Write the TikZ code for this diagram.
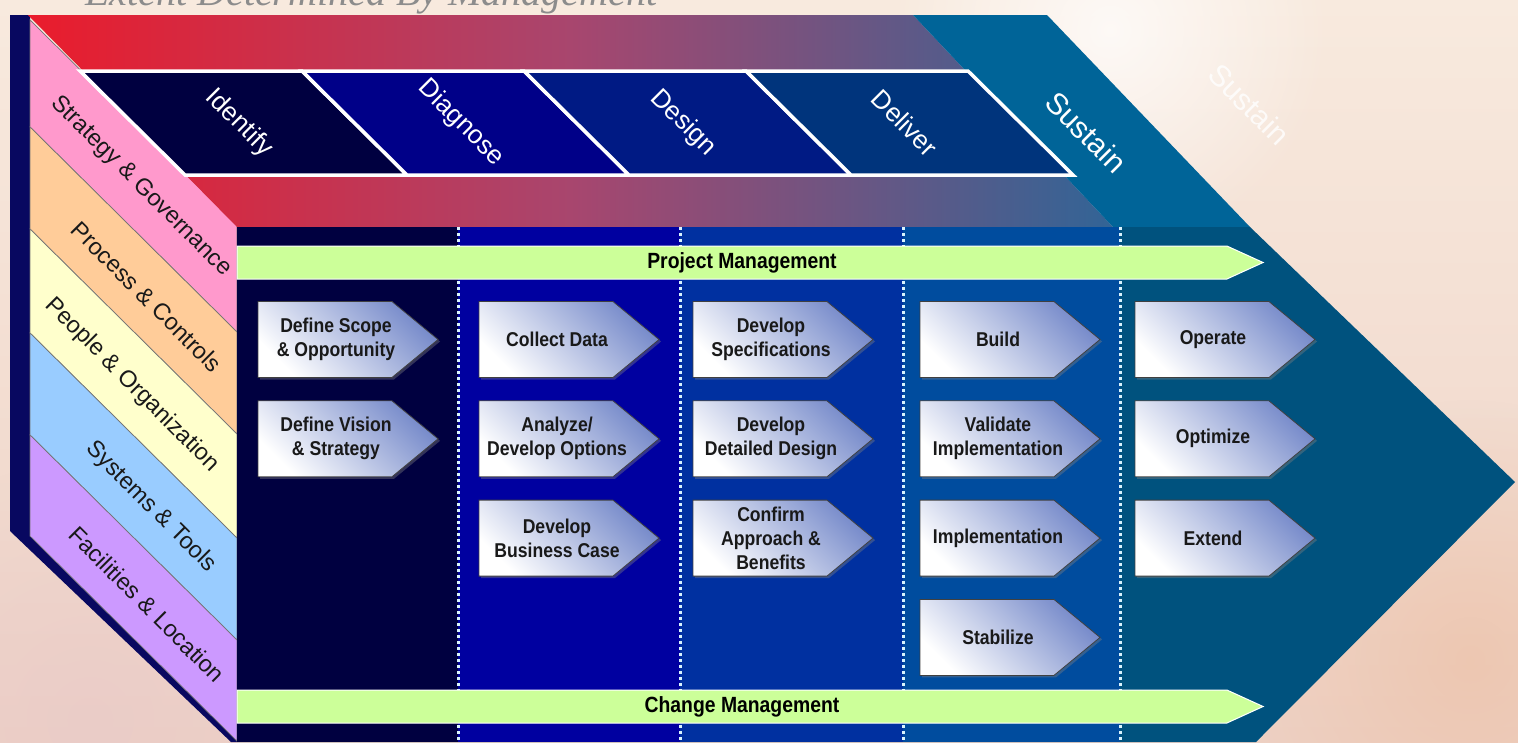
\documentclass[tikz,border=0pt]{standalone}
\usepackage{fontspec}
\setmainfont{Liberation Sans}
\newfontfamily\narrowfont[FakeStretch=0.88]{Liberation Sans}
\newfontfamily\titlefont{Liberation Serif}
\usetikzlibrary{positioning}
\usetikzlibrary{shapes.symbols}
\usetikzlibrary{shadows}
\usetikzlibrary{fadings}

\definecolor{bgtop}{RGB}{248,234,222}
\definecolor{bgbottom}{RGB}{238,210,198}
\definecolor{bgwarm}{RGB}{236,190,162}
\definecolor{bgpink}{RGB}{232,200,200}
\definecolor{sidenavy}{RGB}{8,8,96}
\definecolor{stripepink}{RGB}{255,153,204}
\definecolor{stripeorange}{RGB}{255,204,153}
\definecolor{stripecream}{RGB}{255,255,204}
\definecolor{stripeblue}{RGB}{153,204,255}
\definecolor{stripeviolet}{RGB}{204,153,255}
\definecolor{topred}{RGB}{234,28,44}
\definecolor{topplum}{RGB}{168,70,110}
\definecolor{topsteel}{RGB}{50,100,150}
\definecolor{sustaintop}{RGB}{0,100,152}
\definecolor{identifyblue}{RGB}{0,0,64}
\definecolor{diagnoseblue}{RGB}{0,0,136}
\definecolor{designblue}{RGB}{0,26,132}
\definecolor{deliverblue}{RGB}{0,52,124}
\definecolor{colA}{RGB}{0,0,64}
\definecolor{colB}{RGB}{0,0,160}
\definecolor{colC}{RGB}{0,48,160}
\definecolor{colD}{RGB}{0,76,158}
\definecolor{sustainface}{RGB}{0,82,126}
\definecolor{barlime}{RGB}{204,255,153}
\definecolor{stepblue}{RGB}{118,138,202}

\tikzfading[name=glow, inner color=transparent!0, outer color=transparent!100]

\begin{document}
\begin{tikzpicture}[x=1pt, y=-1pt, node distance=22.5pt,
    facelabel/.style={rotate=-45, font=\fontsize{23.5}{25}\selectfont, text=black!90, inner sep=0pt},
    phaselabel/.style={rotate=-45, font=\fontsize{26}{28}\selectfont, text=white, inner sep=0pt},
    phasebox/.style={draw=white, line width=3.5pt, line join=miter},
    divider/.style={draw=white!85!cyan, line width=3pt, dash pattern=on 3pt off 3pt},
    stepbox/.style={shape=signal, signal to=east, signal pointer angle=79, minimum width=180pt, minimum height=76pt, inner sep=0pt, draw=black!75, line width=0.8pt, top color=stepblue, bottom color=white, shading angle=-45, drop shadow={shadow xshift=2pt, shadow yshift=-2pt, opacity=.4}},
    steptext/.style={font=\narrowfont\bfseries\fontsize{20}{24}\selectfont, align=center, text=black!90, inner sep=0pt},
    bar/.style={shape=signal, signal to=east, signal pointer angle=49, minimum width=1026pt, minimum height=33pt, inner sep=0pt, fill=barlime, draw=white, line width=1pt},
    bartext/.style={font=\narrowfont\bfseries\fontsize{22}{24}\selectfont, text=black, inner sep=0pt}]
    \useasboundingbox (0,0) rectangle (1518,742);

    % backdrop
    \fill[top color=bgtop, bottom color=bgbottom] (0,0) rectangle (1518,742);
    \fill[white, path fading=glow, fill opacity=.75] (1110,30) circle (220pt);
    \fill[bgwarm, path fading=glow, fill opacity=.6] (1470,660) circle (260pt);
    \fill[bgpink, path fading=glow, fill opacity=.6] (90,720) circle (260pt);
    \node[anchor=base west, font=\titlefont\itshape\fontsize{40}{40}\selectfont, text=black!45, inner sep=0pt] (title) at (85,5) {Extent Determined By Management};
    \node[phaselabel, font=\fontsize{30}{32}\selectfont, text opacity=.8] (ghost) at (1249,104) {Sustain};

    % left face
    \fill[sidenavy] (10,15) -- (30,15) -- (30,536) -- (237,741) -- (237,742) -- (231,742) -- (10,531) -- cycle;
    \foreach \ya/\yb/\col/\lx/\txt [count=\i] in {20/127/stripepink/141/Strategy \& Governance, 127/229/stripeorange/147/Process \& Controls, 229/333/stripecream/132/People \& Organization, 333/435/stripeblue/151/Systems \& Tools, 435/536/stripeviolet/147/Facilities \& Location} {
        \filldraw[fill=\col, draw=black!55, line width=0.7pt] (30,\ya) -- (237,\ya+205) -- (237,\yb+205) -- (30,\yb) -- cycle;
        \node[facelabel] (face\i) at (\lx,{(\ya+\yb)/2+0.99*(\lx-30)+3}) {\txt};
    }

    % top face
    \shade[left color=topred, right color=topsteel, middle color=topplum] (28,15) -- (913,15) -- (1113,227) -- (237,227) -- cycle;
    \fill[sustaintop] (913,15) -- (1047,15) -- (1250,227) -- (1113,227) -- cycle;
    \foreach \t/\col/\txt [count=\i] in {80/identifyblue/Identify, 302/diagnoseblue/Diagnose, 524/designblue/Design, 746/deliverblue/Deliver} {
        \filldraw[phasebox, fill=\col] (\t,71) -- (\t+222,71) -- (\t+327,175) -- (\t+105,175) -- cycle;
        \node[phaselabel] (phase\i) at (\t+159,123) {\txt};
    }
    \node[phaselabel, font=\fontsize{30}{32}\selectfont] (sustain) at (1086,132) {Sustain};

    % front face
    \fill[sustainface] (237,227) -- (1250,227) -- (1515,482) -- (1256,742) -- (237,742) -- cycle;
    \fill[colA] (237,227) rectangle (458,742);
    \fill[colB] (458,227) rectangle (680,742);
    \fill[colC] (680,227) rectangle (903,742);
    \fill[colD] (903,227) rectangle (1120,742);
    \draw[divider] (458,227) -- (458,742);
    \draw[divider] (680,227) -- (680,742);
    \draw[divider] (903,227) -- (903,742);
    \draw[divider] (1120,227) -- (1120,742);

    \node[bar] (projbar) at (732,262.5) {};
    \node[bartext] (projtext) at ([xshift=10pt]projbar.center) {Project Management};
    \node[bar] (changebar) at (732,706.5) {};
    \node[bartext] (changetext) at ([xshift=10pt]changebar.center) {Change Management};

    % steps
    \node[stepbox] (scope) at (325,339.5) {};
    \node[stepbox, below=of scope] (vision) {};
    \node[stepbox] (collect) at (546,339.5) {};
    \node[stepbox, below=of collect] (analyze) {};
    \node[stepbox, below=of analyze] (business) {};
    \node[stepbox] (specs) at (760,339.5) {};
    \node[stepbox, below=of specs] (detailed) {};
    \node[stepbox, below=of detailed] (confirm) {};
    \node[stepbox] (build) at (987,339.5) {};
    \node[stepbox, below=of build] (validate) {};
    \node[stepbox, below=of validate] (implement) {};
    \node[stepbox, below=of implement] (stabilize) {};
    \node[stepbox] (operate) at (1202,339.5) {};
    \node[stepbox, below=of operate] (optimize) {};
    \node[stepbox, below=of optimize] (extend) {};

    \node[steptext] (scopetext) at ([xshift=11pt]scope.center) {Define Scope\\\& Opportunity};
    \node[steptext] (visiontext) at ([xshift=11pt]vision.center) {Define Vision\\\& Strategy};
    \node[steptext] (collecttext) at ([xshift=11pt]collect.center) {Collect Data};
    \node[steptext] (analyzetext) at ([xshift=11pt]analyze.center) {Analyze/\\Develop Options};
    \node[steptext] (businesstext) at ([xshift=11pt]business.center) {Develop\\Business Case};
    \node[steptext] (specstext) at ([xshift=11pt]specs.center) {Develop\\Specifications};
    \node[steptext] (detailedtext) at ([xshift=11pt]detailed.center) {Develop\\Detailed Design};
    \node[steptext] (confirmtext) at ([xshift=11pt]confirm.center) {Confirm\\Approach \&\\Benefits};
    \node[steptext] (buildtext) at ([xshift=11pt]build.center) {Build};
    \node[steptext] (validatetext) at ([xshift=11pt]validate.center) {Validate\\Implementation};
    \node[steptext] (implementtext) at ([xshift=11pt]implement.center) {Implementation};
    \node[steptext] (stabilizetext) at ([xshift=11pt]stabilize.center) {Stabilize};
    \node[steptext] (operatetext) at ([xshift=11pt]operate.center) {Operate};
    \node[steptext] (optimizetext) at ([xshift=11pt]optimize.center) {Optimize};
    \node[steptext] (extendtext) at ([xshift=11pt]extend.center) {Extend};
\end{tikzpicture}
\end{document}
